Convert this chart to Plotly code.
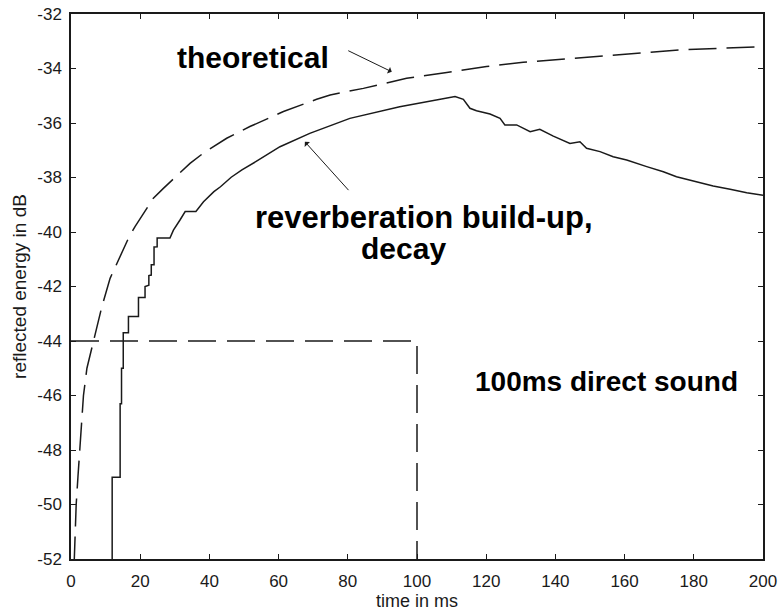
import plotly.graph_objects as go

# ---- data ----
theory_t = [0.9, 1.1, 1.5, 2.0, 2.5, 3.0, 3.6, 4.6, 6.45, 8.9, 11.3, 13.2, 16.6, 18.5, 23.8, 26.7,
            34.4, 38.2, 45.0, 51.7, 61.4, 71.0, 74.9, 84.5, 97.0, 108.6, 120.1, 130.7, 142.3,
            153.8, 165.4, 176.0, 187.6, 199.1, 200.0]
theory_db = [-52.2, -51.2, -50.0, -49.0, -48.0, -47.0, -46.0, -45.0, -44.0, -42.75, -41.7, -41.15,
             -40.23, -39.8, -38.76, -38.4, -37.48, -37.11, -36.56, -36.13, -35.58, -35.13, -34.97,
             -34.73, -34.36, -34.15, -33.93, -33.77, -33.66, -33.53, -33.42, -33.32, -33.26, -33.2, -33.2]

reverb_t = [11.9, 11.9, 14.2, 14.2, 14.6, 14.6, 15.1, 15.1, 16.6, 16.6, 19.5, 19.5, 21.4, 21.4,
            22.5, 22.5, 23.2, 23.2, 24.0, 24.0, 24.9, 24.9, 28.6, 29.6, 31.5, 33.0, 36.1, 38.3,
            41.3, 43.2, 46.3, 49.4, 53.4, 60.4, 69.0, 80.6, 95.0, 104.0, 109.5, 111.0, 113.4,
            115.3, 117.2, 121.1, 124.0, 125.4, 128.8, 132.7, 135.5, 139.4, 144.2, 147.1, 149.0,
            152.9, 156.7, 160.6, 166.4, 171.2, 175.0, 180.8, 185.6, 190.5, 195.3, 200.0]
reverb_db = [-52.5, -49.0, -49.0, -46.3, -46.3, -45.0, -45.0, -43.7, -43.7, -43.1, -43.1, -42.4,
             -42.4, -42.0, -41.95, -41.6, -41.58, -41.2, -41.2, -40.55, -40.54, -40.22, -40.22,
             -39.93, -39.56, -39.25, -39.25, -38.89, -38.52, -38.34, -37.99, -37.72, -37.42,
             -36.87, -36.38, -35.83, -35.4, -35.2, -35.06, -35.03, -35.13, -35.46, -35.55, -35.67,
             -35.83, -36.07, -36.07, -36.32, -36.23, -36.48, -36.75, -36.69, -36.93, -37.05,
             -37.24, -37.36, -37.6, -37.79, -37.97, -38.15, -38.31, -38.43, -38.56, -38.65]

direct_t = [0, 100, 100]
direct_db = [-44, -44, -52]

x_ticks = [0, 20, 40, 60, 80, 100, 120, 140, 160, 180, 200]
x_tick_labels = ["0", "20", "40", "60", "80", "100", "120", "140", "160", "180", "200"]
y_ticks = [-52, -50, -48, -46, -44, -42, -40, -38, -36, -34, -32]
y_tick_labels = ["-52", "-50", "-48", "-46", "-44", "-42", "-40", "-38", "-36", "-34", "-32"]

FONT = "Arial, Liberation Sans, sans-serif"
INK = "#1a1a1a"

fig = go.Figure()
fig.add_trace(go.Scatter(x=theory_t, y=theory_db, mode="lines",
                         line=dict(color=INK, width=1.5, dash="28px,10px")))
fig.add_trace(go.Scatter(x=reverb_t, y=reverb_db, mode="lines",
                         line=dict(color=INK, width=1.5)))
fig.add_trace(go.Scatter(x=direct_t, y=direct_db, mode="lines",
                         line=dict(color=INK, width=1.5, dash="28px,11px")))

axis_common = dict(showgrid=False, zeroline=False, showline=True, mirror="ticks",
                   linecolor=INK, linewidth=1.5, ticks="inside", ticklen=5, tickwidth=1,
                   tickcolor=INK, tickfont=dict(family=FONT, size=17, color=INK))

fig.update_xaxes(range=[0, 200], tickvals=x_ticks, ticktext=x_tick_labels,
                 title=dict(text="time in ms", font=dict(family=FONT, size=18, color=INK), standoff=4),
                 ticklabelstandoff=6, **axis_common)
fig.update_yaxes(range=[-52, -32], tickvals=y_ticks, ticktext=y_tick_labels,
                 title=dict(text="reflected energy in dB", font=dict(family=FONT, size=19, color=INK), standoff=6),
                 ticklabelstandoff=4, **axis_common)

bold = dict(family=FONT, size=30, color="black", weight="bold")
bold_small = dict(family=FONT, size=28, color="black", weight="bold")
ann = [
    dict(x=52.7, y=-33.61, text="theoretical", showarrow=False, font=bold),
    dict(x=102.0, y=-39.45, text="reverberation build-up,", showarrow=False,
         font=dict(family=FONT, size=31, color="black", weight="bold")),
    dict(x=96.0, y=-40.6, text="decay", showarrow=False, font=bold),
    dict(x=154.9, y=-45.5, text="100ms direct sound", showarrow=False, font=bold_small),
    dict(x=92.7, y=-34.12, ax=79.7, ay=-33.32, axref="x", ayref="y", text="", showarrow=True,
         arrowhead=1, arrowsize=1.2, arrowwidth=1, arrowcolor=INK),
    dict(x=67.6, y=-36.69, ax=80.6, ay=-38.52, axref="x", ayref="y", text="", showarrow=True,
         arrowhead=1, arrowsize=1.2, arrowwidth=1, arrowcolor=INK),
]
for a in ann:
    a.update(xref="x", yref="y")
fig.update_layout(annotations=ann)

fig.update_layout(width=780, height=614, margin=dict(l=71, r=17, t=14, b=55, autoexpand=False),
                  paper_bgcolor="white", plot_bgcolor="white", showlegend=False)

fig.write_html("out.html")
